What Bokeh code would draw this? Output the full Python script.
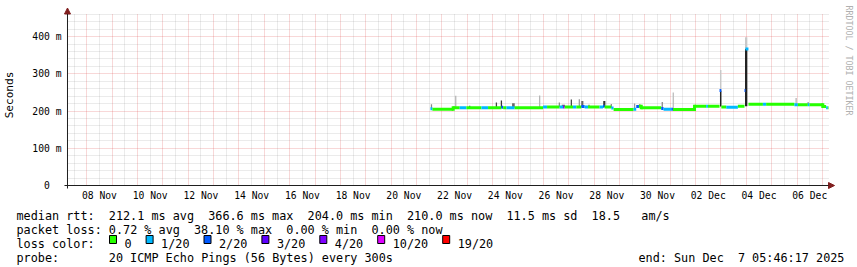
import re
import math
import pandas as pd
from bokeh.plotting import figure
from bokeh.layouts import column
from bokeh.core.properties import value
from bokeh.models import (Range1d, FixedTicker, CustomJSTickFormatter, Grid,
                          Arrow, NormalHead, ColumnDataSource)
from bokeh.embed import file_html
from bokeh.resources import INLINE

# ---------------- data ----------------
end_time = "2025-12-07 05:46:17"
span_days = 30
y_max_ms = 462

loss_labels = ["0", "1/20", "2/20", "3/20", "4/20", "10/20", "19/20"]
loss_colors = ["#26ff00", "#00b8ff", "#0059ff", "#5e00ff", "#7e00ff", "#dd00ff", "#ff0000"]

# median rtt: step boundaries (n+1), value per step (ms), loss class index per step
median_bounds = [
    "2025-11-21 13:10", "2025-11-21 15:00", "2025-11-22 10:40", "2025-11-22 16:50",
    "2025-11-22 23:10", "2025-11-23 13:20", "2025-11-23 19:40", "2025-11-24 08:15",
    "2025-11-24 09:55", "2025-11-24 13:00", "2025-11-24 20:50", "2025-11-25 23:40",
    "2025-11-26 03:30", "2025-11-26 15:20", "2025-11-26 18:35", "2025-11-26 20:05",
    "2025-11-27 04:00", "2025-11-27 07:10", "2025-11-27 11:55", "2025-11-27 15:00",
    "2025-11-27 18:15", "2025-11-28 05:10", "2025-11-28 08:25", "2025-11-28 09:55",
    "2025-11-28 16:15", "2025-11-28 18:25", "2025-11-29 13:20", "2025-11-29 15:50",
    "2025-11-29 18:25", "2025-11-29 20:35", "2025-11-30 15:30", "2025-11-30 17:40",
    "2025-12-01 01:00", "2025-12-01 02:35", "2025-12-01 23:00", "2025-12-02 10:00",
    "2025-12-02 11:40", "2025-12-02 22:40", "2025-12-03 00:20", "2025-12-03 05:00",
    "2025-12-03 16:00", "2025-12-03 22:15", "2025-12-03 23:10", "2025-12-04 02:00",
    "2025-12-04 15:40", "2025-12-04 18:45", "2025-12-05 21:30", "2025-12-06 00:45",
    "2025-12-06 10:10", "2025-12-06 11:45", "2025-12-07 00:20", "2025-12-07 03:30",
    "2025-12-07 05:05", "2025-12-07 05:46",
]
median_rtt = [
    206, 205, 209, 209, 209, 209, 209, 210, 209, 209,
    209, 211, 211, 211, 211, 211, 211, 211, 212, 211,
    211, 211, 213, 211, 208, 204, 205, 212, 213, 209,
    207, 205, 205, 204, 213, 213, 213, 255, 211, 210,
    213, 255, 366.6, 218, 218, 218, 217, 217, 217, 217,
    212, 209, 209,
]
median_loss = [
    1, 0, 0, 1, 0, 1, 0, 2, 0, 1,
    0, 1, 0, 1, 4, 0, 1, 0, 2, 1,
    0, 1, 2, 0, 1, 0, 1, 2, 0, 0,
    2, 1, 2, 0, 0, 1, 0, 2, 0, 1,
    0, 2, 1, 0, 1, 0, 1, 0, 1, 0,
    0, 1, 0,
]

# smoke (ping spread) columns: time, low, high (ms), grey shade, width (hours)
smoke_time = [
    "2025-11-21 14:07", "2025-11-22 13:05", "2025-11-23 02:18", "2025-11-24 03:33",
    "2025-11-24 08:17", "2025-11-24 19:38", "2025-11-25 20:28", "2025-11-26 15:06",
    "2025-11-26 18:53", "2025-11-27 02:27", "2025-11-27 10:00", "2025-11-27 12:50",
    "2025-11-27 19:10", "2025-11-28 09:38", "2025-11-28 16:15", "2025-11-29 14:17",
    "2025-11-29 19:00", "2025-11-30 16:28", "2025-12-01 02:53", "2025-12-02 23:46",
    "2025-12-02 23:46", "2025-12-03 23:51", "2025-12-03 23:51", "2025-12-05 23:07",
    "2025-12-06 10:28",
]
smoke_lo = [205, 209, 209, 209, 209, 209, 209, 211, 211, 211, 211, 211, 211, 211,
            208, 204, 212, 207, 205, 212, 255, 213, 367, 218, 217]
smoke_hi = [218, 241, 214, 223, 228, 221, 242, 223, 217, 231, 232, 227, 217, 227,
            219, 220, 218, 224, 250, 255, 310, 367, 398, 235, 224]
smoke_shade = ["#888888", "#b4b4b4", "#555555", "#444444", "#333333", "#666666",
               "#b4b4b4", "#888888", "#666666", "#444444", "#999999", "#666666",
               "#777777", "#333333", "#888888", "#999999", "#888888", "#888888",
               "#bbbbbb", "#222222", "#c8c8c8", "#222222", "#c8c8c8", "#b4b4b4",
               "#999999"]
smoke_width_h = [1.2, 1.2, 1.2, 1.2, 1.2, 2.5, 1.2, 1.2, 3.0, 1.2, 1.2, 2.0, 1.2,
                 2.0, 1.2, 1.2, 1.2, 1.2, 1.2, 1.4, 1.4, 2.2, 2.2, 1.2, 1.2]

y_ticks = [0, 100, 200, 300, 400]
x_tick_days = ["2025-11-08", "2025-11-10", "2025-11-12", "2025-11-14", "2025-11-16",
               "2025-11-18", "2025-11-20", "2025-11-22", "2025-11-24", "2025-11-26",
               "2025-11-28", "2025-11-30", "2025-12-02", "2025-12-04", "2025-12-06"]
x_tick_labels = ["08 Nov", "10 Nov", "12 Nov", "14 Nov", "16 Nov", "18 Nov", "20 Nov",
                 "22 Nov", "24 Nov", "26 Nov", "28 Nov", "30 Nov", "02 Dec", "04 Dec",
                 "06 Dec"]

legend_rows = [
    "median rtt:  212.1 ms avg  366.6 ms max  204.0 ms min  210.0 ms now  11.5 ms sd  18.5   am/s",
    "packet loss: 0.72 % avg  38.10 % max  0.00 % min  0.00 % now",
    "loss color:",
    "probe:       20 ICMP Echo Pings (56 Bytes) every 300s",
]
end_text = "end: Sun Dec  7 05:46:17 2025"
watermark = "RRDTOOL / TOBI OETIKER"
y_label = "Seconds"

# ---------------- layout ----------------
W = 857
FRAME_L, FRAME_B = 62, 189  # chart frame: x from 62 to W, y from 0 to 189
TOP_H = 203                 # chart figure height
BOT_H = 267 - TOP_H         # legend figure height
AX_L, AX_R = 66, 828        # pixel x of range start / end on the chart axis
AX_B, AX_T = 185, 13        # pixel y of 0 and of y_max
MONO = "DejaVu Sans Mono"
CHAR_W = 7.1


def ms(t):
    return pd.Timestamp(t).value / 1e6


t_end = ms(end_time)
t_start = t_end - span_days * 86400000.0


def px_x(sx):
    return t_start + (sx - AX_L) / (AX_R - AX_L) * (t_end - t_start)


def px_y(sy):
    return (AX_B - sy) / (AX_B - AX_T) * y_max_ms


p = figure(width=W, height=TOP_H, x_axis_type="datetime",
           x_range=Range1d(px_x(FRAME_L), px_x(W)), y_range=Range1d(px_y(FRAME_B), px_y(0)),
           output_backend="svg", toolbar_location=None,
           min_border_left=FRAME_L, min_border_right=0, min_border_top=0,
           min_border_bottom=TOP_H - FRAME_B,
           background_fill_color="white", border_fill_color="white",
           outline_line_color=None)
p.frame_align = False

# grids
p.xgrid.visible = False
p.ygrid.visible = False
noons = [ts.value / 1e6 for ts in pd.date_range("2025-11-07 12:00", "2025-12-06 12:00", freq="D")]
midnights = [ts.value / 1e6 for ts in pd.date_range("2025-11-08", "2025-12-07", freq="D")]
minor_y = [v for v in range(20, y_max_ms, 20) if v % 100]
major_y = [100, 200, 300, 400]
GRAY = dict(grid_line_color="#8f8f8f", grid_line_alpha=0.36, grid_line_dash="1 1", grid_line_width=1)
RED = dict(grid_line_color="#de4f4f", grid_line_alpha=0.45, grid_line_dash="1 1", grid_line_width=1)
vb = (0, y_max_ms)
hb = (t_start, t_end)
p.add_layout(Grid(dimension=0, ticker=FixedTicker(ticks=noons), cross_bounds=vb, **GRAY))
p.add_layout(Grid(dimension=1, ticker=FixedTicker(ticks=minor_y), cross_bounds=hb, **GRAY))
p.add_layout(Grid(dimension=0, ticker=FixedTicker(ticks=midnights), cross_bounds=vb, **RED))
p.add_layout(Grid(dimension=1, ticker=FixedTicker(ticks=major_y), cross_bounds=hb, **RED))

# axes (ticks/labels from Bokeh's axes; axis lines drawn as arrows inside the frame)
x_ticks = [ms(d) + 12 * 3600000 for d in x_tick_days]
p.xaxis.ticker = FixedTicker(ticks=x_ticks)
p.xaxis.formatter = CustomJSTickFormatter(args=dict(labels=x_tick_labels),
                                          code="return labels[index];")
p.yaxis.ticker = FixedTicker(ticks=y_ticks)
p.yaxis.formatter = CustomJSTickFormatter(
    code="return tick == 0 ? '0\\u00a0\\u00a0' : tick.toFixed(0) + ' m';")
for ax in (p.xaxis, p.yaxis):
    ax.axis_line_color = None
    ax.major_tick_out = 0
    ax.major_tick_in = 0
    ax.minor_tick_out = 0
    ax.minor_tick_in = 0
    ax.major_label_text_font = MONO
    ax.major_label_text_font_size = "9.7px"
    ax.major_label_text_color = "#000000"
p.xaxis.major_label_standoff = 0
p.yaxis.major_label_standoff = 2
p.yaxis.axis_label = y_label
p.yaxis.axis_label_text_font = MONO
p.yaxis.axis_label_text_font_size = "11.1px"
p.yaxis.axis_label_text_font_style = "normal"
p.yaxis.axis_label_text_color = "#000000"
p.yaxis.axis_label_standoff = 13

# smoke
smoke_src = ColumnDataSource(dict(
    x=[ms(t) for t in smoke_time], lo=smoke_lo, hi=smoke_hi, c=smoke_shade,
    w=[h * 3600000 for h in smoke_width_h]))
p.vbar(x="x", width="w", bottom="lo", top="hi", fill_color="c", line_color=None, source=smoke_src)

# median coloured by loss
bx = [ms(t) for t in median_bounds]
hx0, hx1, hy, hc = [], [], [], []
vx, vy0, vy1, vc = [], [], [], []
for i, (v, l) in enumerate(zip(median_rtt, median_loss)):
    hx0.append(bx[i]); hx1.append(bx[i + 1]); hy.append(v); hc.append(loss_colors[l])
    if i > 0 and median_loss[i - 1] == l and median_rtt[i - 1] != v:
        vx.append(bx[i]); vy0.append(median_rtt[i - 1]); vy1.append(v); vc.append(loss_colors[l])
p.segment(x0="x0", y0="y", x1="x1", y1="y", line_color="c", line_width=3,
          source=ColumnDataSource(dict(x0=hx0, x1=hx1, y=hy, c=hc)))
p.segment(x0="x", y0="y0", x1="x", y1="y1", line_color="c", line_width=3, line_cap="square",
          source=ColumnDataSource(dict(x=vx, y0=vy0, y1=vy1, c=vc)))

# axis lines with arrow heads
ARROW = "#801f1f"
AXIS = "#1f1f1f"
p.add_layout(Arrow(end=NormalHead(size=6, fill_color=ARROW, line_color=ARROW),
                   x_start=px_x(63), y_start=0, x_end=px_x(834), y_end=0,
                   line_color=AXIS, line_width=1))
p.add_layout(Arrow(end=NormalHead(size=6, fill_color=ARROW, line_color=ARROW),
                   x_start=t_start, y_start=px_y(188), x_end=t_start, y_end=px_y(7.5),
                   line_color=AXIS, line_width=1))

# watermark
p.text(x=[px_x(848)], y=[px_y(5)], text=[watermark], text_font=value(MONO),
       text_font_size="8.3px", text_color="#b0b0b0", angle=-math.pi / 2,
       text_align="left", text_baseline="middle")

# ---------------- legend figure ----------------
q = figure(width=W, height=BOT_H, x_range=Range1d(0, W), y_range=Range1d(BOT_H, 0),
           output_backend="svg", toolbar_location=None,
           x_axis_location=None, y_axis_location=None,
           min_border_left=0, min_border_right=0, min_border_top=0, min_border_bottom=0,
           background_fill_color="white", border_fill_color="white",
           outline_line_color=None)
q.frame_align = False
q.xgrid.visible = False
q.ygrid.visible = False

tx, ty, tt = [], [], []
row_base = [215, 229, 243, 257]
for row, sy in zip(legend_rows, row_base):
    for m in re.finditer(r"\S+(?: \S+)*", row):
        tx.append(16 + m.start() * CHAR_W); ty.append(sy - TOP_H); tt.append(m.group())
for m in re.finditer(r"\S+(?: \S+)*", end_text):
    tx.append(638 + m.start() * CHAR_W); ty.append(257 - TOP_H); tt.append(m.group())

bl, br, bc = [], [], []
pos = 109.0
for lab, col in zip(loss_labels, loss_colors):
    bl.append(pos); br.append(pos + 7); bc.append(col)
    tx.append(pos + 15); ty.append(243 - TOP_H); tt.append(lab)
    pos = pos + 15 + len(lab) * CHAR_W + 14.5

q.quad(left=bl, right=br, top=[235 - TOP_H] * len(bl), bottom=[243 - TOP_H] * len(bl),
       fill_color=bc, line_color="#000000", line_width=1)
q.text(x=tx, y=ty, text=tt, text_font=value(MONO), text_font_size="11.8px",
       text_color="#000000", text_align="left", text_baseline="alphabetic")

open("out.html", "w").write(file_html(column(p, q), INLINE))
